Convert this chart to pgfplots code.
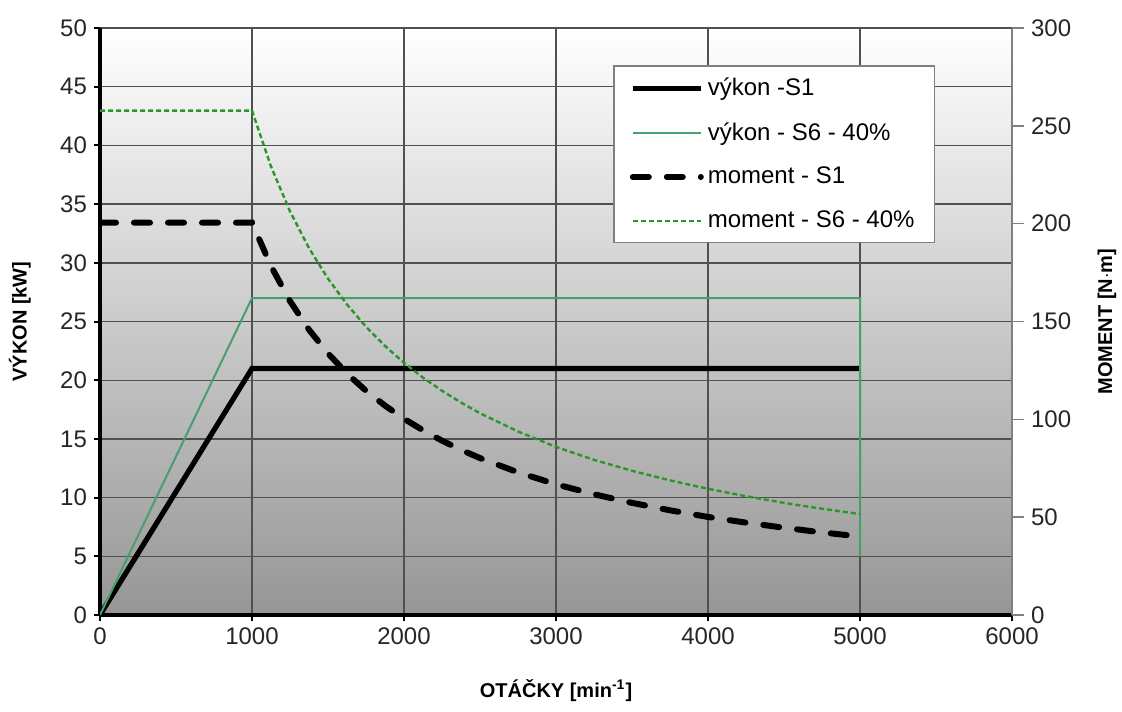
\documentclass[border=0pt]{standalone}
\usepackage{fontspec}
\setmainfont{Liberation Sans}
\usepackage{pgfplots}
\pgfplotsset{compat=1.18}
\definecolor{gridc}{RGB}{80,80,80}
\definecolor{gSsix}{RGB}{70,160,110}
\definecolor{gSsixd}{RGB}{40,150,40}
\begin{document}
\begin{tikzpicture}
\useasboundingbox (-50pt,-48pt) rectangle (511pt,307.5pt);
\pgfplotsset{
 common/.style={scale only axis, width=456pt, height=293.5pt, xmin=0, xmax=6000,
   at={(0,0)}, anchor=south west,
   /pgf/number format/assume math mode=true,
   /pgf/number format/set thousands separator={},
   tick label style={font=\fontsize{12}{14}\selectfont, text=black!85},
   label style={font=\bfseries\fontsize{10}{12}\selectfont},
   tick align=outside, major tick length=3pt},
}
\begin{axis}[common,
  ymin=0, ymax=50, ytick={0,5,...,50}, xtick={0,1000,...,6000},
  axis x line*=bottom, axis y line*=left,
  axis line style={line width=1.6pt, black, -},
  grid=major, grid style={gridc, line width=0.7pt},
  tick style={black, line width=1pt},
  axis background/.style={top color=white, bottom color={rgb,255:red,150;green,150;blue,150}},
  xlabel={OTÁČKY [min\textsuperscript{-1}]},
  ylabel={VÝKON [kW]},
  xlabel style={at={(axis description cs:0.5,-0.128)}, anchor=center},
  ylabel style={at={(axis description cs:-0.088,0.5)}, anchor=center},
]
\addplot[black, line width=2.6pt] coordinates {(0,0) (1000,21) (5000,21)};
\addplot[gSsix, line width=1pt] coordinates {(0,0) (1000,27) (5000,27) (5000,5)};
\end{axis}
\begin{axis}[common,
  ymin=0, ymax=300, ytick={0,50,...,300},
  axis x line=none, axis y line*=right,
  axis line style={line width=0.8pt, gray, -},
  tick style={gray, line width=0.8pt}, major tick length=6pt,
  ylabel={MOMENT [N$\cdot$m]},
  ylabel style={at={(axis description cs:1.104,0.5)}, anchor=center},
  legend cell align=left,
  legend style={at={(axis description cs:0.5625,0.937)}, anchor=north west,
    draw=gray, line width=0.8pt, fill=white, font=\fontsize{12}{14}\selectfont,
    row sep=8pt, inner xsep=8pt, inner ysep=4pt},
  legend image code/.code={\draw[#1] (0pt,0pt) -- (34pt,0pt);},
]
\addlegendimage{black, line width=2.6pt}
\addlegendentry{výkon -S1}
\addlegendimage{gSsix, line width=1pt}
\addlegendentry{výkon - S6 - 40\%}
\addplot[black, line width=3pt, dash pattern=on 8pt off 9pt, line cap=round] coordinates {
 (0,200.5) (1000,200.5) (1125,178.3) (1250,160.4) (1375,145.8) (1500,133.7) (1625,123.4)
 (1750,114.6) (1875,107.0) (2000,100.3) (2125,94.4) (2250,89.1) (2375,84.4)
 (2500,80.2) (2750,72.9) (3000,66.8) (3250,61.7) (3500,57.3) (3750,53.5) (4000,50.1)
 (4250,47.2) (4500,44.6) (4750,42.2) (5000,40.1)};
\addlegendentry{moment - S1}
\addplot[gSsixd, line width=1.2pt, dash pattern=on 2.5pt off 1.5pt] coordinates {
 (0,257.8) (1000,257.8) (1125,229.2) (1250,206.3) (1375,187.5) (1500,171.9) (1625,158.7)
 (1750,147.3) (1875,137.5) (2000,128.9) (2125,121.3) (2250,114.6) (2375,108.6)
 (2500,103.1) (2750,93.8) (3000,85.9) (3250,79.3) (3500,73.7) (3750,68.8) (4000,64.5)
 (4250,60.7) (4500,57.3) (4750,54.3) (5000,51.6)};
\addlegendentry{moment - S6 - 40\%}
\end{axis}
\end{tikzpicture}
\end{document}
